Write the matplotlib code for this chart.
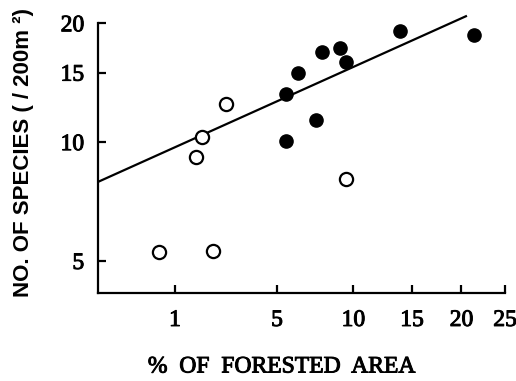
import numpy as np
import matplotlib
matplotlib.use("Agg")
import matplotlib.pyplot as plt
import matplotlib.patheffects as pe

# Data (x: % forested area, y: number of species per 200 m^2)
open_x = [0.65, 2.14, 1.57, 1.77, 2.62, 9.44]
open_y = [5.27, 5.30, 9.15, 10.31, 12.46, 8.07]
filled_x = [5.50, 5.50, 6.19, 7.34, 7.74, 9.00, 9.44, 13.89, 21.38]
filled_y = [13.24, 10.06, 14.99, 11.37, 16.89, 17.35, 15.93, 19.12, 18.65]
fit_x = [0.0045, 20.6]
fit_y = [7.93, 20.9]
x_ticks = [1, 5, 10, 15, 20, 25]
y_ticks = [5, 10, 15, 20]

plt.rcParams['font.family'] = ['Liberation Serif', 'DejaVu Serif']
heavy = [pe.withStroke(linewidth=0.7, foreground='black')]

fig = plt.figure(figsize=(5.16, 3.81), dpi=100)
ax = fig.add_axes([0.190, 0.2302, 0.9787 - 0.190, 0.9388 - 0.2302])

ax.set_xscale('function', functions=(np.sqrt, np.square))
ax.set_yscale('log')

ax.plot(fit_x, fit_y, color='black', lw=1.6, solid_capstyle='butt', clip_on=False)
ax.plot(open_x, open_y, 'o', ms=9.5, mfc='white', mec='black', mew=1.6, ls='none')
ax.plot(filled_x, filled_y, 'o', ms=9.5, mfc='black', mec='black', ls='none')

ax.set_xlim(0.0045, 25)
ax.set_ylim(4.14, 20)

ax.xaxis.set_major_locator(matplotlib.ticker.FixedLocator(x_ticks))
ax.xaxis.set_minor_locator(matplotlib.ticker.NullLocator())
ax.set_xticklabels([str(t) for t in x_ticks])
ax.yaxis.set_major_locator(matplotlib.ticker.FixedLocator(y_ticks))
ax.yaxis.set_minor_locator(matplotlib.ticker.NullLocator())
ax.set_yticklabels([str(t) for t in y_ticks])

for s in ['top', 'right']:
    ax.spines[s].set_visible(False)
for s in ['left', 'bottom']:
    ax.spines[s].set_linewidth(1.6)

ax.tick_params(axis='both', direction='in', length=6, width=1.6, labelsize=17)
ax.tick_params(axis='x', pad=12)
ax.tick_params(axis='y', pad=10)
for lbl in ax.get_xticklabels() + ax.get_yticklabels():
    lbl.set_path_effects(heavy)

ax.set_xlabel('%  OF  FORESTED  AREA', fontsize=17, path_effects=heavy)
ax.xaxis.set_label_coords((281.5 - 98) / 407, (293.3 - 367) / 270, transform=ax.transAxes)
ax.xaxis.label.set_va('center')
ax.set_ylabel('NO. OF SPECIES ( / 200m ²)', fontsize=16, fontweight='bold',
              family=['Liberation Sans', 'DejaVu Sans'])
ax.yaxis.set_label_coords((23 - 98) / 407, (293.3 - 152) / 270, transform=ax.transAxes)
ax.yaxis.label.set_va('center')

fig.savefig('out.png', dpi=100)
